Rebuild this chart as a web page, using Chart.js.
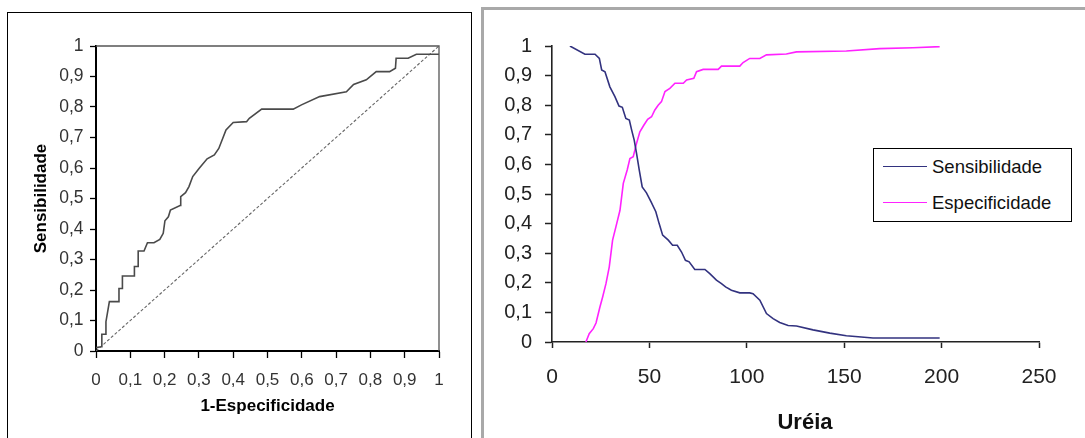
<!DOCTYPE html>
<html>
<head>
<meta charset="utf-8">
<script src="https://cdn.jsdelivr.net/npm/chart.js@4.4.0/dist/chart.umd.min.js"></script>
<style>
  html, body { margin:0; padding:0; background:#fff; width:1085px; height:438px; overflow:hidden; }
  body { position:relative; font-family:"Liberation Sans", Arial, sans-serif; }
  #leftFrame { position:absolute; left:7px; top:12px; width:465px; height:440px; border:1px solid #000; box-sizing:border-box; }
  #rightFrame { position:absolute; left:481px; top:7px; width:700px; height:500px; border:3px solid #a9a9a9; box-sizing:border-box; }
  #c1 { position:absolute; left:0; top:0; }
  #c2 { position:absolute; left:484px; top:0; }
  #legend { position:absolute; left:873px; top:148px; width:199px; height:74px; border:1px solid #000; background:#fff; box-sizing:border-box; }
  .row { position:absolute; left:0; height:22px; line-height:22px; font-size:18.5px; color:#111; white-space:nowrap; }
  .sw { position:absolute; left:9px; top:10px; width:44px; height:0; border-top:1.5px solid #000; }
  .tx { position:absolute; left:58px; top:0; }
</style>
</head>
<body>
<div id="leftFrame"></div>
<div id="rightFrame"></div>
<canvas id="c1" width="470" height="438"></canvas>
<canvas id="c2" width="601" height="438"></canvas>
<div id="legend"></div>
<script>
// ---------- Left chart: ROC curve ----------
const rocFpr  = [0, 0.015, 0.017, 0.029, 0.029, 0.039, 0.067, 0.067, 0.077, 0.077, 0.112, 0.112, 0.123, 0.123, 0.140, 0.150, 0.169, 0.186, 0.196, 0.201, 0.211, 0.217, 0.245, 0.247, 0.261, 0.271, 0.282, 0.301, 0.324, 0.345, 0.358, 0.379, 0.400, 0.439, 0.447, 0.483, 0.575, 0.599, 0.652, 0.730, 0.751, 0.788, 0.817, 0.856, 0.873, 0.875, 0.910, 0.934, 1.0];
const rocSens = [0.011, 0.014, 0.055, 0.055, 0.096, 0.162, 0.162, 0.205, 0.205, 0.246, 0.246, 0.277, 0.277, 0.328, 0.328, 0.355, 0.355, 0.366, 0.386, 0.427, 0.440, 0.462, 0.477, 0.506, 0.519, 0.539, 0.572, 0.599, 0.630, 0.643, 0.664, 0.725, 0.749, 0.752, 0.763, 0.793, 0.793, 0.807, 0.834, 0.850, 0.874, 0.889, 0.916, 0.916, 0.927, 0.960, 0.960, 0.973, 0.973];
const diagFpr  = [0, 1];
const diagSens = [0, 1];
const rocTickLabels = ['0', '0,1', '0,2', '0,3', '0,4', '0,5', '0,6', '0,7', '0,8', '0,9', '1'];

// ---------- Right chart: Sensibilidade / Especificidade vs Uréia ----------
const ureiaSens  = [9.2, 16.9, 22.1, 24.3, 25.5, 27.2, 29.7, 32.3, 34.4, 36.1, 37.9, 39.7, 40.9, 42.2, 43.4, 44.8, 46.3, 48.5, 50.8, 53.3, 55.0, 56.8, 59.7, 61.9, 64.3, 66.5, 68.5, 70.4, 73.3, 78.5, 81.0, 84.4, 87.0, 89.1, 92.1, 96.4, 101.5, 103.2, 106.7, 110.1, 113.5, 116.9, 121.2, 125.5, 134.0, 142.6, 151.1, 164.8, 199.0];
const sensValues = [1.0, 0.972, 0.972, 0.958, 0.919, 0.913, 0.862, 0.829, 0.797, 0.793, 0.755, 0.750, 0.716, 0.682, 0.637, 0.581, 0.524, 0.504, 0.474, 0.440, 0.400, 0.361, 0.344, 0.327, 0.327, 0.304, 0.276, 0.271, 0.245, 0.245, 0.231, 0.209, 0.197, 0.186, 0.175, 0.166, 0.166, 0.163, 0.141, 0.096, 0.079, 0.066, 0.056, 0.054, 0.041, 0.030, 0.021, 0.0135, 0.0135];
const ureiaSpec  = [17.4, 19.1, 21.2, 22.6, 24.6, 26.0, 27.7, 29.4, 31.1, 32.8, 34.9, 36.6, 38.6, 40.0, 41.7, 43.4, 45.1, 47.2, 49.1, 51.1, 52.8, 54.5, 56.2, 58.0, 60.5, 63.1, 67.4, 69.1, 72.8, 74.2, 77.6, 85.3, 87.0, 96.4, 98.1, 101.5, 106.7, 110.1, 120.3, 125.5, 151.1, 168.2, 185.3, 199.0];
const specValues = [0, 0.028, 0.045, 0.064, 0.118, 0.152, 0.197, 0.254, 0.344, 0.389, 0.445, 0.536, 0.581, 0.620, 0.626, 0.671, 0.710, 0.733, 0.752, 0.761, 0.784, 0.800, 0.812, 0.846, 0.857, 0.874, 0.874, 0.885, 0.891, 0.913, 0.921, 0.921, 0.932, 0.932, 0.944, 0.958, 0.958, 0.970, 0.973, 0.980, 0.983, 0.991, 0.994, 0.998];
const ureiaTickLabels = ['0', '50', '100', '150', '200', '250'];
const valueTickLabels = ['0', '0,1', '0,2', '0,3', '0,4', '0,5', '0,6', '0,7', '0,8', '0,9', '1'];

const FAMILY = '"Liberation Sans", Arial, sans-serif';
const pts = (xs, ys) => xs.map((x, i) => ({ x: x, y: ys[i] }));

const framePlugin = {
  id: 'plotFrame',
  afterDatasetsDraw(chart) {
    const a = chart.chartArea, ctx = chart.ctx;
    ctx.save();
    ctx.strokeStyle = '#555';
    ctx.lineWidth = 1.3;
    ctx.beginPath();
    ctx.moveTo(a.left, a.top);
    ctx.lineTo(a.right, a.top);
    ctx.lineTo(a.right, a.bottom);
    ctx.stroke();
    ctx.restore();
  }
};

// The axis title in the original sits slightly right of the plot centre.
const titleShiftPlugin = {
  id: 'titleShift',
  afterLayout(chart) {
    const s = chart.scales.x;
    if (s && !s._shiftWrapped) {
      const orig = s.drawTitle;
      s.drawTitle = function () {
        const l = this.left, r = this.right;
        this.left = l + 9.5; this.right = r + 9.5;
        orig.call(this);
        this.left = l; this.right = r;
      };
      s._shiftWrapped = true;
    }
  }
};

new Chart(document.getElementById('c1'), {
  type: 'line',
  data: {
    datasets: [
      { label: 'Curva ROC', data: pts(rocFpr, rocSens), borderColor: '#4a4a4a', borderWidth: 1.6, pointRadius: 0, tension: 0, fill: false },
      { label: 'Referência', data: pts(diagFpr, diagSens), borderColor: '#666', borderWidth: 1.1, borderDash: [3, 2], pointRadius: 0, fill: false }
    ]
  },
  options: {
    responsive: false, animation: false, devicePixelRatio: 1,
    layout: { padding: { left: 0, top: 46, right: 31, bottom: 0 } },
    plugins: { legend: { display: false }, tooltip: { enabled: false } },
    scales: {
      x: {
        type: 'linear', min: 0, max: 1,
        ticks: { stepSize: 0.1, autoSkip: false, maxRotation: 0, padding: 11.8, color: '#333',
                 font: { family: FAMILY, size: 17 }, callback: (v, i) => rocTickLabels[i] },
        grid: { drawOnChartArea: false, tickLength: 7, tickColor: '#000', tickWidth: 1.3 },
        border: { color: '#000', width: 2 },
        title: { display: true, text: '1-Especificidade', color: '#000',
                 font: { family: FAMILY, size: 17, weight: 'bold' }, padding: { top: 0, bottom: 21.8 } },
        afterFit: s => { s.height = 87; }
      },
      y: {
        type: 'linear', min: 0, max: 1,
        ticks: { stepSize: 0.1, autoSkip: false, padding: 6.5, color: '#333',
                 font: { family: FAMILY, size: 17.5 }, callback: (v, i) => rocTickLabels[i] },
        grid: { drawOnChartArea: false, tickLength: 6, tickColor: '#000', tickWidth: 1.3 },
        border: { color: '#000', width: 2 },
        title: { display: true, text: 'Sensibilidade', color: '#000',
                 font: { family: FAMILY, size: 17, weight: 'bold' }, padding: { top: 30.8, bottom: 0 } },
        afterFit: s => { s.width = 96; }
      }
    }
  },
  plugins: [framePlugin]
});

const chart2 = new Chart(document.getElementById('c2'), {
  type: 'line',
  data: {
    datasets: [
      { label: 'Sensibilidade', data: pts(ureiaSens, sensValues), borderColor: '#32327f', borderWidth: 1.6, pointRadius: 0, tension: 0, fill: false },
      { label: 'Especificidade', data: pts(ureiaSpec, specValues), borderColor: '#ff22ff', borderWidth: 1.6, pointRadius: 0, tension: 0, fill: false }
    ]
  },
  options: {
    responsive: false, animation: false, devicePixelRatio: 1,
    layout: { padding: { left: 0, top: 46, right: 46, bottom: 0 } },
    plugins: { legend: { display: false }, tooltip: { enabled: false } },
    scales: {
      x: {
        type: 'linear', min: 0, max: 250,
        ticks: { stepSize: 50, autoSkip: false, maxRotation: 0, padding: 16.9, color: '#222',
                 font: { family: FAMILY, size: 21 }, callback: (v, i) => ureiaTickLabels[i] },
        grid: { drawOnChartArea: false, tickLength: 6, tickColor: '#222', tickWidth: 1.5 },
        border: { color: '#222', width: 1.6 },
        title: { display: true, text: 'Uréia', color: '#111',
                 font: { family: FAMILY, size: 22, weight: 'bold' }, padding: { top: 0, bottom: 2.3 } },
        afterFit: s => { s.height = 96; }
      },
      y: {
        type: 'linear', min: 0, max: 1,
        ticks: { stepSize: 0.1, autoSkip: false, padding: 13, color: '#222',
                 font: { family: FAMILY, size: 20 }, callback: (v, i) => valueTickLabels[i] },
        grid: { drawOnChartArea: false, tickLength: 7, tickColor: '#222', tickWidth: 1.5 },
        border: { color: '#222', width: 1.6 },
        afterFit: s => { s.width = 68; }
      }
    }
  },
  plugins: [titleShiftPlugin]
});

// HTML legend built from the chart's own legend items
const legendBox = document.getElementById('legend');
const items = Chart.defaults.plugins.legend.labels.generateLabels(chart2);
items.forEach((it, i) => {
  const row = document.createElement('div');
  row.className = 'row';
  row.style.top = (7 + i * 36) + 'px';
  row.style.width = '197px';
  const sw = document.createElement('span');
  sw.className = 'sw';
  sw.style.borderTopColor = it.strokeStyle;
  const tx = document.createElement('span');
  tx.className = 'tx';
  tx.textContent = it.text;
  row.appendChild(sw);
  row.appendChild(tx);
  legendBox.appendChild(row);
});
</script>
</body>
</html>
